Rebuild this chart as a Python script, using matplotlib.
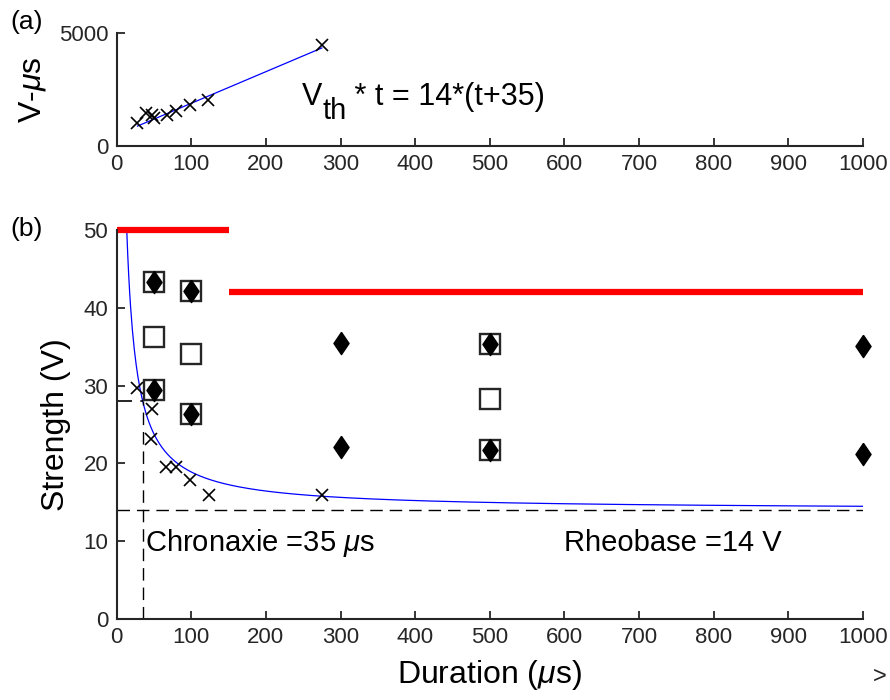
import numpy as np
import matplotlib
matplotlib.use("Agg")
import matplotlib.pyplot as plt

plt.rcParams['font.family'] = ['Liberation Sans', 'DejaVu Sans']
plt.rcParams['mathtext.fontset'] = 'custom'
plt.rcParams['mathtext.rm'] = 'Liberation Sans'
plt.rcParams['mathtext.it'] = 'Liberation Sans:italic'

# model parameters (from the figure annotations)
rheobase = 14
chronaxie = 35

# panel (a): V*t products
t_a = [28, 40, 47, 50, 67, 79, 98, 123, 275]
vt_a = [1000, 1440, 1370, 1220, 1370, 1560, 1820, 2050, 4460]
fit_range_a = [28, 275]

# panel (b): threshold points
t_x = [27, 47, 46, 66, 80, 98, 124, 275]
v_x = [29.7, 27.0, 23.1, 19.5, 19.6, 17.9, 15.9, 15.9]

sq_t = [50, 50, 50, 100, 100, 100, 500, 500, 500]
sq_v = [43.3, 36.3, 29.5, 42.2, 34.1, 26.4, 35.3, 28.3, 21.7]

dia_t = [50, 50, 100, 100, 300, 300, 500, 500, 1000, 1000]
dia_v = [43.3, 29.5, 42.2, 26.4, 35.5, 22.1, 35.3, 21.7, 35.1, 21.2]

red_t = [[0, 150], [150, 1000]]
red_v = [50, 42]

xticks = list(range(0, 1001, 100))
dark = '#262626'
dash = (0, (9, 5))
diamond = [(0, 1), (0.68, 0), (0, -1), (-0.68, 0), (0, 1)]


def style(ax):
	for s in ['top', 'right']:
		ax.spines[s].set_visible(False)
	for s in ['left', 'bottom']:
		ax.spines[s].set_linewidth(1.5)
		ax.spines[s].set_color(dark)
	ax.tick_params(direction='in', length=6, width=1.3, colors=dark, labelsize=16, pad=6)
	ax.set_xlim(0, 1000)
	ax.set_xticks(xticks)


fig = plt.figure(figsize=(8.9, 7), dpi=100)

# ---- panel (a)
ax1 = fig.add_axes([0.131, 0.7914, 0.8387, 0.1614])
style(ax1)
ax1.set_ylim(0, 5000)
ax1.set_yticks([0, 5000])
tf = np.array(fit_range_a)
ax1.plot(tf, rheobase * (tf + chronaxie), color='blue', lw=0.9)
ax1.plot(t_a, vt_a, 'x', color='black', ms=9, mew=1.2)
ax1.set_ylabel(r'V-$\mu$s', fontsize=23, labelpad=8)

v = ax1.text(248, 2170, 'V', fontsize=22, va='center', ha='left')
sub = ax1.annotate('th', xy=(1, 0.5), xycoords=v, xytext=(0, -10),
				   textcoords='offset points', va='center', ha='left', fontsize=21)
ax1.annotate(' * t = 14*(t+35)', xy=(1, 0.5), xycoords=sub, xytext=(0, 10),
			 textcoords='offset points', va='center', ha='left', fontsize=22)

# ---- panel (b)
ax2 = fig.add_axes([0.131, 0.1157, 0.8387, 0.5557])
style(ax2)
ax2.set_ylim(0, 50)
ax2.set_yticks(range(0, 51, 10))

t_curve = np.linspace(10, 1000, 800)
ax2.plot(t_curve, rheobase * (1 + chronaxie / t_curve), color='blue', lw=0.9)

ax2.plot([0, 1000], [rheobase, rheobase], color='black', lw=1, linestyle=dash)
ax2.plot([0, chronaxie], [2 * rheobase, 2 * rheobase], color='black', lw=1.2, linestyle=dash)
ax2.plot([chronaxie, chronaxie], [0, 2 * rheobase], color='black', lw=1, linestyle=dash)

for tt, vv in zip(red_t, red_v):
	ax2.plot(tt, [vv, vv], color='red', lw=4.5, solid_capstyle='butt', clip_on=False)

ax2.plot(sq_t, sq_v, 's', ms=14.5, mfc='white', mec=dark, mew=1.7, linestyle='none')
ax2.plot(dia_t, dia_v, marker=diamond, ms=16, color='black', linestyle='none', clip_on=False)
ax2.plot(t_x, v_x, 'x', color='black', ms=9, mew=1.2)

ax2.text(38, 9.8, r'Chronaxie =35 $\mu$s', fontsize=21, va='center', ha='left')
ax2.text(600, 9.8, 'Rheobase =14 V', fontsize=21, va='center', ha='left')

ax2.set_xlabel(r'Duration ($\mu$s)', fontsize=23, labelpad=7)
ax2.set_ylabel('Strength (V)', fontsize=23, labelpad=9)

fig.text(0.012, 1 - 22 / 700, '(a)', fontsize=19, va='center', ha='left')
fig.text(0.012, 1 - 229 / 700, '(b)', fontsize=19, va='center', ha='left')
fig.text(0.989, 1 - 677 / 700, '>', fontsize=17, va='center', ha='center', color=dark)

fig.savefig('out.png', dpi=100)
